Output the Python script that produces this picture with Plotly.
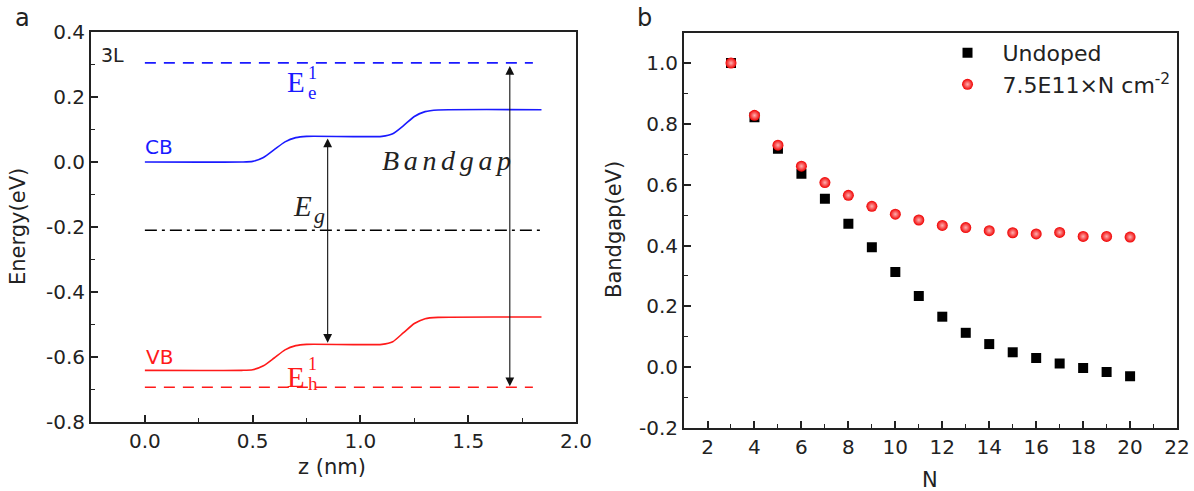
import plotly.graph_objects as go

# ---------------- Panel a data ----------------
cb_z = [0.0, 0.45, 0.50, 0.55, 0.60, 0.65, 0.70, 0.75, 1.10, 1.15, 1.20, 1.25, 1.30, 1.36, 1.84]
cb_e = [0.0, 0.0, 0.002, 0.014, 0.038, 0.062, 0.075, 0.079, 0.079, 0.087, 0.112, 0.140, 0.155, 0.160, 0.161]
vb_z = [0.0, 0.45, 0.50, 0.55, 0.60, 0.65, 0.70, 0.75, 1.10, 1.15, 1.20, 1.25, 1.30, 1.36, 1.84]
vb_e = [-0.641, -0.641, -0.639, -0.627, -0.603, -0.578, -0.565, -0.561, -0.561, -0.553, -0.525, -0.497, -0.482, -0.478, -0.477]
ee1_z = [0.0, 1.80]
ee1_e = [0.305, 0.305]
eh1_z = [0.0, 1.80]
eh1_e = [-0.693, -0.693]
mid_z = [0.0, 1.84]
mid_e = [-0.21, -0.21]
eg_arrow = dict(z=0.848, top=0.077, bottom=-0.556)
bg_arrow = dict(z=1.693, top=0.300, bottom=-0.690)

a_yticks = [-0.8, -0.6, -0.4, -0.2, 0.0, 0.2, 0.4]
a_yticktext = ["-0.8", "-0.6", "-0.4", "-0.2", "0.0", "0.2", "0.4"]
a_xticks = [0.0, 0.5, 1.0, 1.5, 2.0]
a_xticktext = ["0.0", "0.5", "1.0", "1.5", "2.0"]

# ---------------- Panel b data ----------------
N = [3, 4, 5, 6, 7, 8, 9, 10, 11, 12, 13, 14, 15, 16, 17, 18, 19, 20]
undoped = [1.0, 0.822, 0.718, 0.636, 0.554, 0.472, 0.394, 0.313, 0.234, 0.166, 0.113, 0.076, 0.049, 0.030, 0.012, -0.003, -0.016, -0.030]
doped = [1.0, 0.828, 0.730, 0.661, 0.607, 0.565, 0.529, 0.503, 0.484, 0.466, 0.459, 0.449, 0.442, 0.438, 0.443, 0.430, 0.430, 0.428]
b_yticks = [-0.2, 0.0, 0.2, 0.4, 0.6, 0.8, 1.0]
b_yticktext = ["-0.2", "0.0", "0.2", "0.4", "0.6", "0.8", "1.0"]
b_xticks = [2, 4, 6, 8, 10, 12, 14, 16, 18, 20, 22]

FONT = "'DejaVu Sans', sans-serif"
SERIF = "'Liberation Serif', 'DejaVu Serif', serif"
BLUE = "#1a1aff"
RED = "#ff1a1a"
INK = "#222"

fig = go.Figure()

# Panel a traces
fig.add_trace(go.Scatter(x=cb_z, y=cb_e, mode="lines", line=dict(color=BLUE, width=1.6, shape="spline", smoothing=0.6),
                         xaxis="x", yaxis="y", showlegend=False))
fig.add_trace(go.Scatter(x=vb_z, y=vb_e, mode="lines", line=dict(color=RED, width=1.6, shape="spline", smoothing=0.6),
                         xaxis="x", yaxis="y", showlegend=False))
fig.add_trace(go.Scatter(x=ee1_z, y=ee1_e, mode="lines", line=dict(color=BLUE, width=1.6, dash="11px,8px"),
                         xaxis="x", yaxis="y", showlegend=False))
fig.add_trace(go.Scatter(x=eh1_z, y=eh1_e, mode="lines", line=dict(color=RED, width=1.6, dash="11px,8px"),
                         xaxis="x", yaxis="y", showlegend=False))
fig.add_trace(go.Scatter(x=mid_z, y=mid_e, mode="lines", line=dict(color="black", width=1.4, dash="12px,5px,3px,5px"),
                         xaxis="x", yaxis="y", showlegend=False))

# Panel b traces
fig.add_trace(go.Scatter(x=N, y=undoped, mode="markers", name="Undoped",
                         marker=dict(symbol="square", size=10, color="black"),
                         xaxis="x2", yaxis="y2"))
fig.add_trace(go.Scatter(x=N, y=doped, mode="markers", name="7.5E11×N cm<sup>-2</sup>",
                         marker=dict(symbol="circle", size=11, color="#f00000",
                                     gradient=dict(type="radial", color="#ffb0b0"),
                                     line=dict(width=0)),
                         xaxis="x2", yaxis="y2"))

axis_common = dict(showline=True, linecolor=INK, linewidth=2, mirror=True, ticks="inside",
                   ticklen=7, tickwidth=1.5, tickcolor=INK, showgrid=False, zeroline=False,
                   tickfont=dict(family=FONT, size=20, color=INK))
minor_common = dict(ticks="inside", ticklen=4, tickwidth=1.2, tickcolor=INK)

fig.update_layout(
    width=1194, height=491,
    margin=dict(l=0, r=0, t=0, b=0, pad=0, autoexpand=False),
    paper_bgcolor="white", plot_bgcolor="white",
    xaxis=dict(domain=[0.0762, 0.4824], range=[-0.25, 2.0], tickvals=a_xticks, ticktext=a_xticktext,
               minor=dict(dtick=0.25, tick0=0, **minor_common), anchor="y", **axis_common),
    yaxis=dict(domain=[0.1405, 0.9348], range=[-0.8, 0.4], tickvals=a_yticks, ticktext=a_yticktext,
               minor=dict(dtick=0.1, tick0=0, **minor_common), anchor="x", **axis_common),
    xaxis2=dict(domain=[0.5729, 0.9858], range=[1, 22], tickvals=b_xticks,
                minor=dict(dtick=1, tick0=0, **minor_common), anchor="y2", **axis_common),
    yaxis2=dict(domain=[0.1283, 0.9335], range=[-0.2, 1.1], tickvals=b_yticks, ticktext=b_yticktext,
                minor=dict(dtick=0.1, tick0=0, **minor_common), anchor="x2", **axis_common),
    legend=dict(x=0.781, y=0.935, xanchor="left", yanchor="top", bgcolor="rgba(0,0,0,0)",
                font=dict(family=FONT, size=22, color=INK), itemwidth=60),
    showlegend=True,
)

W, H = 1194, 491
ann = []
# Axis titles & panel labels (pixel positions converted to paper)
fixed = [("Energy(eV)", 18, 227, -90, 21), ("z (nm)", 332, 467, 0, 21),
         ("Bandgap(eV)", 614, 230, -90, 21), ("N", 930, 480, 0, 21),
         ("a", 22, 18, 0, 24), ("b", 645, 18, 0, 24)]
for text, px, py, ang, sz in fixed:
    ann.append(dict(text=text, x=px / W, y=1 - py / H, xref="paper", yref="paper", showarrow=False,
                    textangle=ang, xanchor="center", yanchor="middle",
                    font=dict(family=FONT, size=sz, color=INK)))

def dtext(text, x, y, color, size, family=FONT, xanchor="center"):
    return dict(text=text, x=x, y=y, xref="x", yref="y", showarrow=False, xanchor=xanchor, yanchor="middle",
                borderpad=0, font=dict(family=family, size=size, color=color))

ann.append(dtext("3L", -0.152, 0.328, INK, 19))
ann.append(dtext("CB", 0.066, 0.045, BLUE, 20))
ann.append(dtext("VB", 0.066, -0.60, RED, 20))
# E_e^1
ann.append(dtext("E", 0.748, 0.246, BLUE, 29, SERIF, "right"))
ann.append(dtext("1", 0.754, 0.274, BLUE, 18, SERIF, "left"))
ann.append(dtext("e", 0.754, 0.214, BLUE, 19, SERIF, "left"))
# E_h^1
ann.append(dtext("E", 0.748, -0.660, RED, 29, SERIF, "right"))
ann.append(dtext("1", 0.754, -0.622, RED, 18, SERIF, "left"))
ann.append(dtext("h", 0.754, -0.682, RED, 19, SERIF, "left"))
# E_g
ann.append(dtext("<i>E</i>", 0.782, -0.135, INK, 29, SERIF, "right"))
ann.append(dtext("<i>g</i>", 0.778, -0.166, INK, 22, SERIF, "left"))
# Bandgap
ann.append(dtext("<i>B\u2006a\u2006n\u2006d\u2006g\u2006a\u2006p</i>", 1.400, 0.005, INK, 28, SERIF))

# Arrows
for arr in (eg_arrow, bg_arrow):
    ann.append(dict(x=arr["z"], y=arr["bottom"], ax=arr["z"], ay=arr["top"], xref="x", yref="y", axref="x", ayref="y",
                    showarrow=True, arrowhead=2, startarrowhead=2, arrowside="end+start", arrowsize=1.6,
                    startarrowsize=1.6, arrowwidth=1.1, arrowcolor="#111", text=""))

fig.update_layout(annotations=ann)
fig.write_html("out.html")
